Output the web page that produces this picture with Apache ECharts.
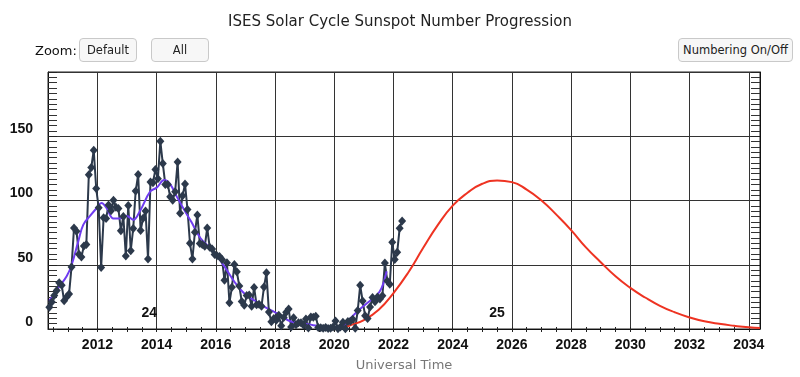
<!DOCTYPE html>
<html>
<head>
<meta charset="utf-8">
<script src="https://cdn.jsdelivr.net/npm/echarts@6/dist/echarts.min.js"></script>
<style>
  body { margin: 0; background: #fff; font-family: "DejaVu Sans", sans-serif; }
  #wrap { position: relative; width: 800px; height: 377px; }
  #chart { position: absolute; left: 0; top: 0; width: 800px; height: 377px; }
  .btn {
    position: absolute; top: 38px; height: 24px; box-sizing: border-box;
    border: 1px solid #c9c9c9; border-radius: 4px; background: #f7f7f7;
    font-size: 11.5px; color: #222; line-height: 22px; text-align: center;
  }
  #zoomLbl { position: absolute; left: 35px; top: 43px; font-size: 13px; line-height: 16px; color: #111; }
</style>
</head>
<body>
<div id="wrap">
  <div id="chart"></div>
  <div id="zoomLbl">Zoom:</div>
  <div class="btn" style="left:79px;width:58px">Default</div>
  <div class="btn" style="left:151px;width:58px">All</div>
  <div class="btn" style="left:678px;width:115px">Numbering On/Off</div>
</div>
<script>
// monthly mean sunspot number, starting May 2010
const snStartYear = 2010;
const snStartMonth = 5;
const snMonthly = [
  17, 21, 26, 30, 36, 34, 22, 25,
  27.3, 48.3, 78.6, 76.1, 58.2, 56.1, 64.5, 65.8, 120.1, 125.7, 139.1, 109.3,
  94.4, 47.8, 86.6, 85.9, 96.5, 92.0, 100.1, 94.8, 93.7, 76.5, 87.6, 56.8,
  96.1, 60.9, 78.3, 107.3, 120.2, 76.7, 86.2, 91.8, 54.5, 114.4, 113.9, 124.2,
  117.0, 146.1, 128.7, 112.5, 112.5, 102.9, 100.2, 106.9, 130.0, 90.0, 103.6, 112.9,
  93.0, 66.7, 54.5, 75.3, 88.8, 66.5, 65.8, 64.4, 78.6, 63.6, 62.2, 58.0,
  57.0, 56.4, 54.1, 37.9, 51.5, 20.5, 32.4, 50.2, 44.6, 33.4, 21.4, 18.5,
  26.1, 26.4, 17.7, 32.3, 18.9, 19.2, 17.8, 32.6, 43.7, 13.2, 5.7, 8.2,
  6.8, 10.7, 2.5, 8.9, 13.1, 15.6, 1.6, 8.7, 3.3, 4.9, 4.9, 3.1,
  7.7, 0.8, 9.4, 9.1, 9.9, 1.2, 0.9, 0.5, 1.1, 0.4, 0.5, 1.5,
  6.2, 0.2, 1.5, 5.2, 0.2, 5.8, 6.1, 7.5, 0.6, 14.4, 34.0, 21.8,
  10.4, 8.2, 17.2, 24.5, 21.2, 25.0, 23.4, 25.9, 51.3, 37.4, 34.8, 67.5,
  54.0, 59.7, 78.5, 84.1
];

// smoothed sunspot number
const smoothYears = [
  2010.37, 2010.68, 2010.96, 2011.13, 2011.35, 2011.52, 2011.75, 2011.97, 2012.14, 2012.31,
  2012.54, 2012.76, 2012.99, 2013.21, 2013.44, 2013.78, 2014.0, 2014.26, 2014.45, 2014.68,
  2014.9, 2015.18, 2015.47, 2015.8, 2016.03, 2016.31, 2016.65, 2016.99, 2017.32, 2017.66,
  2018.0, 2018.17, 2018.51, 2018.95, 2019.29, 2019.86, 2020.09, 2020.3, 2020.53, 2020.87,
  2021.21, 2021.43, 2021.6, 2021.77
];
const smoothValues = [
  22, 32, 41, 50, 68, 81, 88, 94, 98, 94,
  86, 86, 88, 85, 92, 107, 110, 116, 113, 103,
  94, 83, 71, 63, 57, 48, 36, 27, 22, 17,
  13, 11, 6, 4.5, 3, 1.5, 1.5, 2.5, 8, 15.5,
  22, 26, 32, 45
];

// cycle 25 predicted progression
const predYears = [
  2020.34, 2020.5, 2021.0, 2021.5, 2022.0, 2022.5, 2023.0, 2023.5, 2024.0, 2024.5,
  2025.0, 2025.5, 2026.0, 2026.5, 2027.0, 2027.5, 2028.0, 2028.5, 2029.0, 2029.5,
  2030.0, 2030.5, 2031.0, 2031.5, 2032.0, 2032.5, 2033.0, 2033.5, 2034.0, 2034.38
];
const predValues = [
  1, 2.5, 7, 15, 28, 44, 63, 81, 96, 106,
  113, 115.5, 114.3, 108.5, 100, 89, 77, 63.5, 52, 41,
  32, 24.5, 18, 13, 9, 6, 4, 2.5, 1.3, 0.8
];

const cycleNames = ['24', '25'];
const cycleNameX = [2013.75, 2025.5];
const cycleNameY = [12, 12];

const xMin = 2010.33, xMax = 2034.38;
const gridLeft = 48, gridRight = 40, gridTop = 72, gridBottom = 45;
const pxPerYear = (800 - gridLeft - gridRight) / (xMax - xMin);

const snData = snMonthly.map((v, i) => [snStartYear + (snStartMonth - 1 + i + 0.5) / 12, v]);
const smoothData = smoothYears.map((x, i) => [x, smoothValues[i]]);
const predData = predYears.map((x, i) => [x, predValues[i]]);
const cycleData = cycleNames.map((n, i) => [cycleNameX[i], cycleNameY[i], n]);

const tickFont = { fontFamily: 'Liberation Sans', fontWeight: 'bold', fontSize: 14, color: '#111' };

const chart = echarts.init(document.getElementById('chart'));
chart.setOption({
  animation: false,
  backgroundColor: '#fff',
  title: {
    text: 'ISES Solar Cycle Sunspot Number Progression',
    left: 'center',
    top: 10,
    textStyle: { fontFamily: 'DejaVu Sans', fontSize: 15, fontWeight: 'normal', color: '#222' }
  },
  grid: [
    { left: gridLeft, right: gridRight, top: gridTop, bottom: gridBottom,
      show: true, borderColor: '#222', borderWidth: 1 },
    // only used for the half-year ticks
    { left: gridLeft + (2010.5 - xMin) * pxPerYear, right: gridRight + (xMax - 2034) * pxPerYear,
      top: gridTop, bottom: gridBottom }
  ],
  xAxis: [
    {
      type: 'value', gridIndex: 0, min: xMin, max: xMax, splitNumber: 12,
      name: 'Universal Time', nameLocation: 'middle', nameGap: 30,
      nameTextStyle: { fontFamily: 'DejaVu Sans', fontSize: 13, color: '#777' },
      axisLine: { lineStyle: { color: '#111' } },
      axisTick: { show: false },
      axisLabel: Object.assign({
        margin: 9,
        formatter: v => (Math.abs(v % 2) < 1e-6 ? String(v) : '')
      }, tickFont),
      splitLine: { lineStyle: { color: '#333', width: 1 } }
    },
    {
      type: 'value', gridIndex: 1, min: 2010.5, max: 2034, interval: 0.5,
      axisLine: { show: false },
      axisTick: { inside: true, length: 5, lineStyle: { color: '#222' } },
      axisLabel: { show: false },
      splitLine: { show: false }
    }
  ],
  yAxis: [
    {
      type: 'value', gridIndex: 0, min: 0, max: 200, interval: 50,
      axisLine: { show: true, lineStyle: { color: '#111' } },
      axisTick: { show: true, inside: true, length: 9, lineStyle: { color: '#222' } },
      minorTick: { show: true, splitNumber: 12, length: 9, lineStyle: { color: '#333' } },
      axisLabel: Object.assign({
        margin: 15, verticalAlign: 'bottom',
        formatter: v => (v >= 200 ? '' : String(v))
      }, tickFont),
      splitLine: { lineStyle: { color: '#333', width: 1 } }
    },
    {
      type: 'value', gridIndex: 0, position: 'right', min: 0, max: 200, interval: 50,
      axisLine: { show: true, lineStyle: { color: '#111' } },
      axisTick: { show: true, inside: true, length: 9, lineStyle: { color: '#222' } },
      minorTick: { show: true, splitNumber: 12, length: 9, lineStyle: { color: '#333' } },
      axisLabel: { show: false },
      splitLine: { show: false }
    },
    { type: 'value', gridIndex: 1, show: false, min: 0, max: 200 }
  ],
  series: [
    {
      type: 'line', name: 'Sunspot Number', data: snData,
      symbol: 'diamond', symbolSize: [8, 9], showAllSymbol: true,
      itemStyle: { color: '#2c394b' },
      lineStyle: { color: '#2c394b', width: 2 }
    },
    {
      type: 'line', name: 'Smoothed', data: smoothData, smooth: 0.4,
      showSymbol: false,
      lineStyle: { color: '#6f3cf0', width: 2 }
    },
    {
      type: 'line', name: 'Predicted', data: predData, smooth: 0.5,
      showSymbol: false,
      lineStyle: { color: '#ee3322', width: 2 }
    },
    {
      type: 'scatter', data: cycleData, symbolSize: 1,
      itemStyle: { color: 'rgba(0,0,0,0)', opacity: 1 },
      label: Object.assign({ show: true, position: 'inside', formatter: p => p.value[2] }, tickFont)
    }
  ]
});
</script>
</body>
</html>
